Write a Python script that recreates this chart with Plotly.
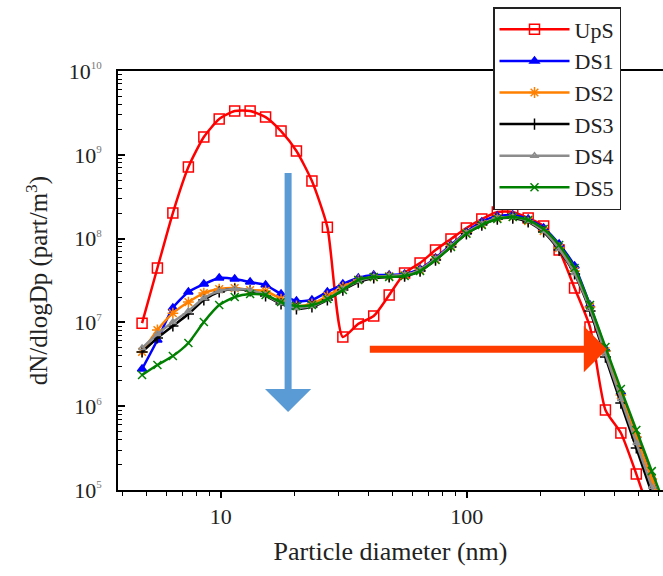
import plotly.graph_objects as go

# Particle diameters (nm) shared by all size distributions
diameter_nm = [4.79, 5.53, 6.39, 7.39, 8.54, 9.86, 11.40, 13.17, 15.22, 17.59,
               20.32, 23.49, 27.14, 31.37, 36.25, 41.88, 48.40, 55.93, 64.63, 74.69,
               86.30, 99.72, 115.2, 133.2, 153.9, 177.8, 205.5, 237.5, 274.4, 317.1,
               366.4, 423.4, 489.3, 565.4, 653.4]

# dN/dlogDp (part/m3)
ups = [9.8e6, 4.46e7, 2.02e8, 7.14e8, 1.63e9, 2.67e9, 3.33e9, 3.33e9, 2.82e9, 1.92e9,
       1.11e9, 4.86e8, 1.37e8, 6.7e6, 9.6e6, 1.19e7, 2.12e7, 3.88e7, 5.11e7, 7.3e7,
       9.9e7, 1.34e8, 1.71e8, 2.08e8, 2.08e8, 1.76e8, 1.41e8, 7.3e7, 2.57e7, 8.8e6,
       9.0e5, 4.79e5, 1.55e5, 4.4e4]

ds1 = [2.78e6, 6.17e6, 1.49e7, 2.31e7, 2.87e7, 3.39e7, 3.30e7, 3.03e7, 2.79e7, 2.18e7,
       1.80e7, 1.85e7, 2.31e7, 2.87e7, 3.39e7, 3.67e7, 3.67e7, 3.78e7, 4.34e7, 5.86e7,
       8.4e7, 1.20e8, 1.58e8, 1.86e8, 1.91e8, 1.71e8, 1.34e8, 8.6e7, 4.71e7, 1.61e7,
       4.81e6, 1.48e6, 4.4e5, 1.39e5, 4.4e4]

ds2 = [4.44e6, 8.11e6, 1.29e7, 1.75e7, 2.24e7, 2.50e7, 2.57e7, 2.43e7, 2.37e7, 1.90e7,
       1.57e7, 1.66e7, 2.07e7, 2.64e7, 3.21e7, 3.48e7, 3.57e7, 3.67e7, 4.22e7, 5.70e7,
       8.15e7, 1.17e8, 1.49e8, 1.76e8, 1.81e8, 1.62e8, 1.23e8, 7.72e7, 4.10e7, 1.53e7,
       4.55e6, 1.36e6, 4.29e5, 1.35e5, 4.4e4]

ds3 = [4.44e6, 6.52e6, 9.06e6, 1.26e7, 1.85e7, 2.31e7, 2.50e7, 2.37e7, 2.07e7, 1.66e7,
       1.45e7, 1.53e7, 1.85e7, 2.43e7, 3.03e7, 3.39e7, 3.48e7, 3.57e7, 4.10e7, 5.55e7,
       7.94e7, 1.14e8, 1.45e8, 1.71e8, 1.76e8, 1.58e8, 1.20e8, 7.3e7, 3.78e7, 1.37e7,
       3.86e6, 1.09e6, 3.17e5, 9.2e4, 2.7e4]

ds4 = [4.94e6, 7.26e6, 1.01e7, 1.37e7, 1.95e7, 2.37e7, 2.50e7, 2.43e7, 2.12e7, 1.70e7,
       1.49e7, 1.57e7, 1.90e7, 2.50e7, 3.12e7, 3.48e7, 3.57e7, 3.67e7, 4.22e7, 5.70e7,
       8.15e7, 1.17e8, 1.49e8, 1.76e8, 1.81e8, 1.62e8, 1.23e8, 7.52e7, 3.88e7, 1.45e7,
       4.2e6, 1.22e6, 3.64e5, 1.09e5, 3.3e4]

ds5 = [2.36e6, 3.10e6, 3.97e6, 5.68e6, 1.01e7, 1.61e7, 2.01e7, 2.18e7, 2.12e7, 1.75e7,
       1.57e7, 1.61e7, 1.90e7, 2.43e7, 3.21e7, 3.48e7, 3.48e7, 3.57e7, 4.10e7, 5.55e7,
       7.94e7, 1.14e8, 1.45e8, 1.71e8, 1.81e8, 1.67e8, 1.30e8, 8.4e7, 4.46e7, 1.61e7,
       5.08e6, 1.60e6, 5.2e5, 1.68e5, 5.5e4]

series_names = ["UpS", "DS1", "DS2", "DS3", "DS4", "DS5"]
series_values = [ups, ds1, ds2, ds3, ds4, ds5]
series_colors = ["#FF0000", "#0000FF", "#FF8000", "#000000", "#8C8C8C", "#008000"]
series_symbols = ["square-open", "triangle-up", "asterisk-open", "cross-thin-open",
                  "triangle-up-open", "x-thin-open"]
series_sizes = [10, 8, 9, 8, 6, 8]

# Y tick labels
y_tick_vals = [1e5, 1e6, 1e7, 1e8, 1e9, 1e10]
y_tick_exps = ["5", "6", "7", "8", "9", "10"]
y_tick_text = ["10<sup><span style='font-size:11px;color:#777'>%s</span></sup>" % e
               for e in y_tick_exps]

# Arrow annotations (log10 of diameter, log10 of concentration)
blue_arrow = dict(x=1.274, tail_y=8.80, tip_y=5.93)
red_arrow = dict(y=6.68, tail_x=1.60, tip_x=2.57)

SERIF = "Liberation Serif"

fig = go.Figure()
for name, vals, col, sym, sz in zip(series_names, series_values, series_colors,
                                    series_symbols, series_sizes):
    fig.add_trace(go.Scatter(
        x=diameter_nm[:len(vals)], y=vals, name=name, mode="lines+markers",
        line=dict(color=col, width=2.5, shape="spline", smoothing=0.6),
        marker=dict(symbol=sym, size=sz, color=col,
                    line=dict(color=col, width=1.5)),
    ))

fig.add_annotation(x=blue_arrow["x"], y=blue_arrow["tip_y"],
                   ax=blue_arrow["x"], ay=blue_arrow["tail_y"],
                   xref="x", yref="y", axref="x", ayref="y", text="",
                   showarrow=True, arrowhead=1, arrowsize=1.1, arrowwidth=7,
                   arrowcolor="#5B9BD5")
fig.add_annotation(x=red_arrow["tip_x"], y=red_arrow["y"],
                   ax=red_arrow["tail_x"], ay=red_arrow["y"],
                   xref="x", yref="y", axref="x", ayref="y", text="",
                   showarrow=True, arrowhead=1, arrowsize=1.1, arrowwidth=7,
                   arrowcolor="#FF3C00")

fig.update_layout(
    width=663, height=576,
    margin=dict(l=118, r=0, t=71, b=86, autoexpand=False),
    paper_bgcolor="white", plot_bgcolor="white",
    font=dict(family=SERIF, size=22, color="#222"),
    showlegend=True,
    legend=dict(x=(493 - 118) / 545, y=(490 - 7) / 419,
                xanchor="left", yanchor="top",
                bgcolor="white", bordercolor="#222", borderwidth=1.5,
                font=dict(family=SERIF, size=22, color="#222"),
                itemwidth=70, tracegroupgap=0),
    xaxis=dict(
        type="log", range=[0.5825, 2.798], automargin=False,
        showline=True, linecolor="black", linewidth=1.5, mirror=True,
        ticks="outside", ticklen=6, tickwidth=1.5, tickcolor="black",
        dtick=1, showgrid=False, zeroline=False, ticklabelstandoff=0,
        minor=dict(ticks="outside", ticklen=4, tickwidth=1.2, tickcolor="black",
                   dtick="D1", showgrid=False),
        tickfont=dict(family=SERIF, size=22, color="#222"),
        title=dict(text="Particle diameter (nm)", standoff=14,
                   font=dict(family=SERIF, size=26, color="#222")),
    ),
    yaxis=dict(
        type="log", range=[5, 10], automargin=False,
        showline=True, linecolor="black", linewidth=1.5, mirror=False,
        ticks="inside", ticklen=7, tickwidth=1.5, tickcolor="black",
        tickmode="array", tickvals=y_tick_vals, ticktext=y_tick_text,
        showgrid=False, zeroline=False, ticklabelstandoff=10,
        minor=dict(ticks="inside", ticklen=4, tickwidth=1.2, tickcolor="black",
                   dtick="D1", showgrid=False),
        tickfont=dict(family=SERIF, size=22, color="#222"),
        title=dict(text="dN/dlogDp (part/m<sup>3</sup>)", standoff=14,
                   font=dict(family=SERIF, size=25, color="#222")),
    ),
)

fig.write_html("out.html", config={"displayModeBar": False},
               post_script="document.body.style.margin='0';")
